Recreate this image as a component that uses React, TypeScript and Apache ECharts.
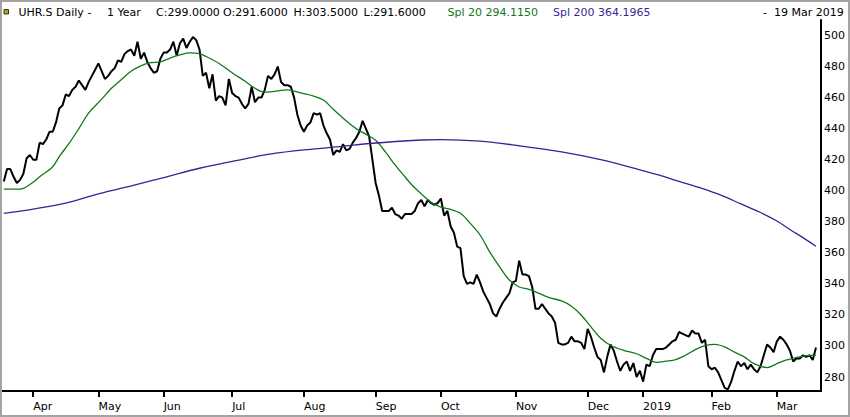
import React, { useEffect, useRef } from "react";
import * as echarts from "echarts";

// ---- data ----
const START_DATE = "2018-03-19";
const END_DATE = "2019-03-19";
const HOLIDAYS = [
  "2018-03-30", "2018-04-02", "2018-05-01", "2018-05-10", "2018-05-21",
  "2018-08-01", "2018-12-24", "2018-12-25", "2018-12-26", "2018-12-31",
  "2019-01-01", "2019-01-02",
];
const MONTHS = ["Jan", "Feb", "Mar", "Apr", "May", "Jun", "Jul", "Aug", "Sep", "Oct", "Nov", "Dec"];

// daily close (UHR.S)
const PRICE = [
  406, 414, 414, 409, 405, 407, 411, 421, 423, 420,
  420, 431, 430, 433, 438, 438, 444, 453, 455, 462,
  461, 465, 467, 471, 468, 465, 470, 474, 478, 482,
  477, 472, 474, 477, 479, 484, 483, 488, 490, 491,
  487, 496, 485, 489, 483, 479, 476, 477, 485, 489,
  489, 491, 496, 487, 495, 498, 492, 496, 499, 497,
  491, 474, 476, 466, 475, 458, 461, 460, 455, 472,
  463, 461, 460, 456, 453, 456, 467, 457, 460, 460,
  465, 474, 472, 475, 480, 470, 468, 468, 467, 460,
  449, 442, 438, 442, 444, 450, 449, 450, 442, 437,
  433, 423, 426, 425, 430, 426, 427, 431, 434, 438,
  445, 440, 435, 420, 405, 397, 387, 387, 387, 389,
  385, 384, 382, 385, 385, 385, 387, 392, 394, 390,
  394, 392, 391, 392, 395, 384, 387, 377, 373, 364,
  363, 345, 340, 341, 340, 346, 341, 335, 331, 327,
  321, 319, 324, 328, 331, 334, 341, 342, 355, 346,
  346, 345, 338, 324, 324, 327, 324, 321, 319, 315,
  302, 301, 301, 302, 306, 303, 303, 302, 298, 311,
  306, 299, 293, 291, 283, 293, 301, 297, 290, 284,
  288, 290, 284, 289, 280, 284, 277, 288, 287, 294,
  298, 298, 298, 299, 301, 303, 304, 309, 308, 307,
  306, 310, 308, 308, 302, 304, 287, 285, 286, 283,
  278, 273, 272, 277, 284, 290, 287, 289, 285, 288,
  285, 283, 287, 294, 301, 299, 296, 303, 306, 304,
  301, 297, 290, 292, 292, 294, 293, 294, 291, 299,
];

// Spl 20: [day index, value]
const SPL20 = [
  [0, 401], [5, 401], [8, 404], [11, 409], [15, 415.5], [17, 422], [20, 430.5],
  [23, 440], [26, 450], [30, 459], [33, 466], [36, 471.5], [39, 477], [42, 480.5],
  [45, 482.5], [48, 483], [51, 485.5], [54, 487.5], [57, 488.8], [60, 488.3],
  [62, 486.5], [66, 482], [70, 476], [74, 470.5], [77, 466], [80, 463.5],
  [83, 464], [87, 465], [91, 463], [95, 461], [98, 458.5], [101, 452.5],
  [105, 445], [108, 440], [111, 436.5], [114, 432.5], [117, 425], [120, 416.5],
  [123, 409], [125, 404], [128, 398], [131, 392.5], [134, 389.5], [137, 388],
  [140, 385.5], [143, 379], [146, 371.5], [149, 360.5], [152, 351], [155, 342.5],
  [158, 338], [161, 336.5], [164, 334], [167, 331.3], [171, 329], [174, 325.6],
  [177, 320], [180, 312.3], [183, 305], [186, 300.5], [190, 297.2], [194, 295],
  [197, 292], [200, 289.5], [203, 290.2], [206, 291.2], [209, 294], [212, 297.7],
  [215, 300.2], [218, 301], [221, 299.4], [224, 296], [227, 293], [230, 288.6],
  [234, 286.1], [237, 288.6], [240, 291], [244, 293], [247, 294], [249, 294.115],
];

// Spl 200: [day index, value]
const SPL200 = [
  [0, 385.4], [9, 388.2], [19, 392], [29, 398], [40, 403.7], [50, 409],
  [60, 414.5], [72, 419.8], [82, 423.7], [92, 426.3], [103, 428.4], [113, 430.6],
  [128, 432.7], [134, 433], [146, 432], [158, 429], [171, 425], [183, 420],
  [195, 413.5], [201, 410], [207, 406], [214, 401.5], [220, 397], [226, 391.5],
  [232, 386], [237, 380.5], [241, 375], [245, 369.8], [249, 364.1965],
];

const HEADER_TITLE = "UHR.S Daily -";
const HEADER_PERIOD = "1 Year";
const HEADER_OHLC = ["C:299.0000", "O:291.6000", "H:303.5000", "L:291.6000"];
const HEADER_SPL20 = "Spl 20 294.1150";
const HEADER_SPL200 = "Spl 200 364.1965";
const HEADER_DATE = "19 Mar 2019";

const Y_MIN = 271;
const Y_MAX = 510;

function pad(n: number) {
  return n < 10 ? "0" + n : "" + n;
}

function tradingDays(): string[] {
  const out: string[] = [];
  const hol = new Set(HOLIDAYS);
  const [sy, sm, sd] = START_DATE.split("-").map(Number);
  const [ey, em, ed] = END_DATE.split("-").map(Number);
  let t = Date.UTC(sy, sm - 1, sd);
  const end = Date.UTC(ey, em - 1, ed);
  while (t <= end) {
    const d = new Date(t);
    const wd = d.getUTCDay();
    const s = d.getUTCFullYear() + "-" + pad(d.getUTCMonth() + 1) + "-" + pad(d.getUTCDate());
    if (wd !== 0 && wd !== 6 && !hol.has(s)) out.push(s);
    t += 86400000;
  }
  return out;
}

const FONT = "DejaVu Sans";
const GREEN = "#12781a";
const PURPLE = "#3d1f98";

export default function App() {
  const ref = useRef<HTMLDivElement>(null);

  useEffect(() => {
    if (!ref.current) return;
    const chart = echarts.init(ref.current, undefined, { renderer: "svg" });
    const days = tradingDays();
    const monthStart = new Set<number>();
    for (let i = 1; i < days.length; i++) {
      if (days[i].slice(5, 7) !== days[i - 1].slice(5, 7)) monthStart.add(i);
    }
    const isTick = (idx: number) => monthStart.has(idx);

    const txt = (x: number, text: string, fill = "#000", align = "left") => ({
      type: "text",
      x,
      y: 12.5,
      style: {
        text,
        fill,
        font: `11px "${FONT}"`,
        textAlign: align,
        textVerticalAlign: "middle",
      },
      silent: true,
    });

    chart.setOption({
      animation: false,
      backgroundColor: "#fff",
      grid: {
        left: 3.8,
        right: 34,
        top: 20,
        bottom: 26,
        outerBoundsMode: "none",
        containLabel: false,
      },
      xAxis: {
        type: "category",
        data: days,
        boundaryGap: false,
        axisLine: { show: false },
        axisTick: {
          show: true,
          interval: (idx: number) => isTick(idx),
          length: 6,
          lineStyle: { color: "#000", width: 2 },
        },
        axisLabel: {
          interval: (idx: number) => isTick(idx),
          formatter: (v: string) => {
            const m = Number(v.slice(5, 7));
            return m === 1 ? v.slice(0, 4) : MONTHS[m - 1];
          },
          align: "left",
          margin: 10,
          color: "#000",
          fontFamily: FONT,
          fontSize: 11,
        },
        splitLine: { show: false },
      },
      yAxis: {
        type: "value",
        position: "right",
        offset: 5,
        min: Y_MIN,
        max: Y_MAX,
        splitNumber: 12,
        scale: true,
        axisLine: { show: true, lineStyle: { color: "#000", width: 2 } },
        axisTick: { show: false },
        axisLabel: {
          showMinLabel: false,
          showMaxLabel: false,
          margin: 3,
          color: "#000",
          fontFamily: FONT,
          fontSize: 11,
        },
        splitLine: { show: false },
      },
      series: [
        {
          name: "UHR.S",
          type: "line",
          data: PRICE,
          showSymbol: false,
          symbol: "none",
          lineStyle: { color: "#000", width: 2 },
          z: 3,
        },
        {
          name: "Spl 20",
          type: "line",
          data: SPL20,
          smooth: 0.35,
          showSymbol: false,
          symbol: "none",
          lineStyle: { color: GREEN, width: 1.3 },
          z: 4,
        },
        {
          name: "Spl 200",
          type: "line",
          data: SPL200,
          smooth: 0.35,
          showSymbol: false,
          symbol: "none",
          lineStyle: { color: PURPLE, width: 1.3 },
          z: 4,
        },
      ],
      graphic: [
        {
          type: "rect",
          shape: { x: 1, y: 1, width: 848, height: 415 },
          style: { fill: "none", stroke: "#a3a3a3", lineWidth: 2 },
          silent: true,
        },
        {
          type: "rect",
          shape: { x: 4, y: 9.5, width: 4.5, height: 4.5 },
          style: { fill: "#b9a400", stroke: "#333", lineWidth: 1 },
          silent: true,
        },
        {
          type: "line",
          shape: { x1: 2, y1: 391, x2: 822, y2: 391 },
          style: { stroke: "#000", lineWidth: 2.2 },
          silent: true,
        },
        txt(18.5, HEADER_TITLE),
        txt(107, HEADER_PERIOD),
        txt(156, HEADER_OHLC[0]),
        txt(223, HEADER_OHLC[1]),
        txt(293.5, HEADER_OHLC[2]),
        txt(363.5, HEADER_OHLC[3]),
        txt(447.5, HEADER_SPL20, GREEN),
        txt(553, HEADER_SPL200, PURPLE),
        txt(763, "-"),
        txt(774, HEADER_DATE),
      ],
    });

    return () => chart.dispose();
  }, []);

  return (
    <div
      ref={ref}
      style={{ position: "fixed", left: 0, top: 0, width: 850, height: 417 }}
    />
  );
}
